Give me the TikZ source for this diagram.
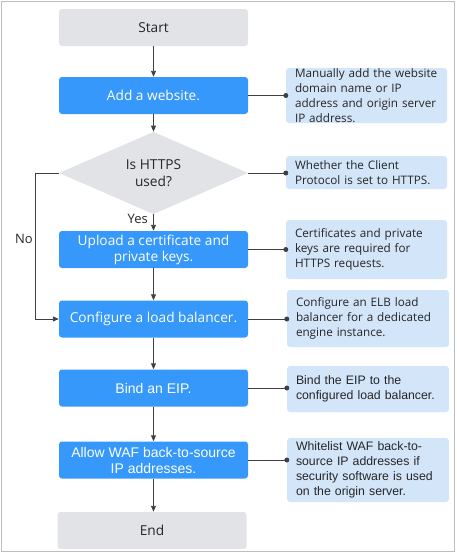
\documentclass[tikz,border=0pt]{standalone}
\usepackage{fontspec}
\setmainfont{Open Sans}
\newfontfamily\hsf{Open Sans}
\newfontfamily\arf{Liberation Sans}
\usetikzlibrary{shapes.geometric,arrows.meta}
\definecolor{bxblue}{HTML}{3598FA}
\definecolor{bxgray}{HTML}{E1E3E6}
\definecolor{notefill}{HTML}{D3E5F8}
\definecolor{linec}{HTML}{404040}
\definecolor{txt}{HTML}{262626}
\definecolor{frame}{HTML}{BDBDBD}
\tikzset{
  base/.style={rectangle, rounded corners=3pt, minimum width=189pt, minimum height=37pt, inner sep=0pt, align=center},
  proc/.style={base, fill=bxblue, text=white, font=\hsf\fontsize{13.7}{16}\selectfont},
  procar/.style={base, fill=bxblue, text=white, font=\arf\fontsize{14}{16}\selectfont},
  term/.style={base, fill=bxgray, text=txt, font=\hsf\fontsize{13.7}{16}\selectfont},
  dec/.style={diamond, fill=bxgray, text=txt, minimum width=189pt, minimum height=54pt, inner sep=0pt, align=center, font=\hsf\fontsize{13.7}{17}\selectfont},
  note/.style={rectangle, rounded corners=3pt, fill=notefill, text=txt, inner xsep=9pt, inner ysep=0pt, align=left, font=\hsf\fontsize{11.7}{15}\selectfont},
  notear/.style={note, font=\arf\fontsize{12.3}{15}\selectfont},
  flow/.style={draw=linec, line width=0.9pt, -{Triangle[length=6pt,width=5pt]}},
  tie/.style={draw=linec, line width=0.9pt},
  dot/.style={circle, fill=linec, inner sep=0pt, minimum size=5pt},
  lbl/.style={text=txt, font=\hsf\fontsize{13}{15}\selectfont, inner sep=0pt}
}
\begin{document}
\begin{tikzpicture}[x=1pt,y=-1pt]
\useasboundingbox (0,0) rectangle (457,555);
\draw[frame, line width=1pt] (1.5,1.5) rectangle (454.5,551.5);
% main column
\node[term] (start) at (153.5,27.5) {Start};
\node[proc] (add) at (153.5,95.5) {Add a website.};
\node[dec] (https) at (153.5,173) {Is HTTPS\\used?};
\node[proc] (upload) at (153.5,249.5) {Upload a certificate and\\private keys.};
\node[proc] (lb) at (153.5,319) {Configure a load balancer.};
\node[procar] (eip) at (153.5,388) {Bind an EIP.};
\node[procar] (allow) at (153.5,460) {Allow WAF back-to-source\\IP addresses.};
\node[term] (end) at (152,530.5) {End};
% notes
\node[note, text width=143pt, minimum height=55pt] (n1) at (366.5,95.5) {Manually add the website\\domain name or IP\\address and origin server\\IP address.};
\node[note, text width=143pt, minimum height=33pt] (n2) at (366.5,172.5) {Whether the Client\\Protocol is set to HTTPS.};
\node[note, text width=143pt, minimum height=59pt] (n3) at (366.5,249.5) {Certificates and private\\keys are required for\\HTTPS requests.};
\node[note, text width=144pt, minimum height=57pt] (n4) at (368,318.5) {Configure an ELB load\\balancer for a dedicated\\engine instance.};
\node[notear, text width=144pt, minimum height=46pt] (n5) at (368,389) {Bind the EIP to the\\configured load balancer.};
\node[notear, text width=144pt, minimum height=64pt] (n6) at (368,470) {Whitelist WAF back-to-\\source IP addresses if\\security software is used\\on the origin server.};
% flow arrows
\draw[flow] (start) -- (add);
\draw[flow] (add) -- (https);
\draw[flow] (https) -- (upload);
\draw[flow] (upload) -- (lb);
\draw[flow] (lb) -- (eip);
\draw[flow] (eip) -- (allow);
\draw[flow] (allow.south) -- (allow.south |- end.north);
\coordinate (nocorner) at (35,173);
\draw[flow] (https.west) -- (nocorner) |- (lb.west);
\node[lbl, anchor=east] (yes) at (148,219) {Yes};
\node[lbl] (no) at (24,239) {No};
% note ties
\foreach \b/\n in {add/n1, https/n2, upload/n3, lb/n4, eip/n5, allow/n6}{
  \draw[tie] (\b.east) -- (\b.east -| \n.west) node[dot] {};
}
\end{tikzpicture}
\end{document}
